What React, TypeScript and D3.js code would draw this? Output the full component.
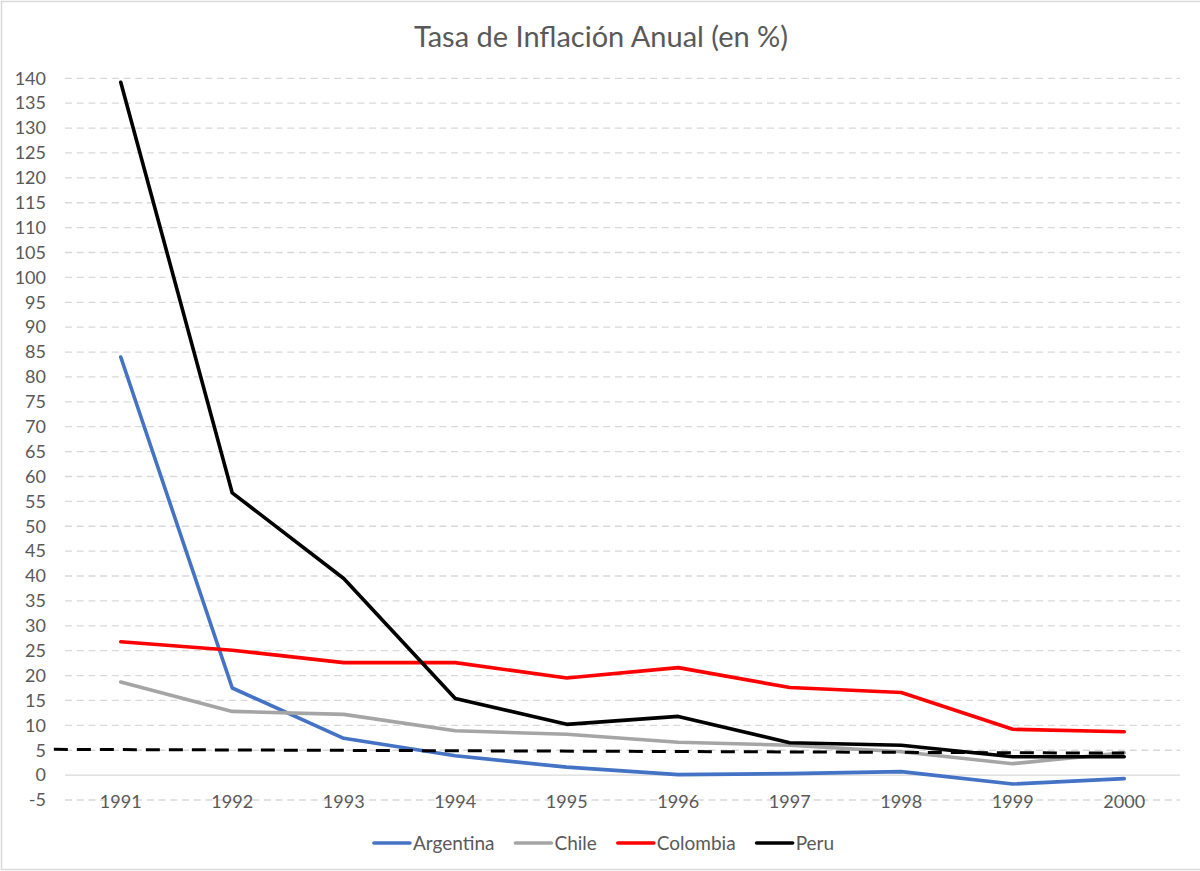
import React, { useEffect, useRef } from "react";
import * as d3 from "d3";

const years = ["1991", "1992", "1993", "1994", "1995", "1996", "1997", "1998", "1999", "2000"];
const argentina = [84.0, 17.5, 7.4, 3.9, 1.6, 0.1, 0.3, 0.7, -1.8, -0.7];
const chile = [18.7, 12.8, 12.2, 8.9, 8.2, 6.6, 6.0, 4.7, 2.3, 4.5];
const colombia = [26.8, 25.1, 22.6, 22.6, 19.5, 21.6, 17.6, 16.6, 9.2, 8.7];
const peru = [139.2, 56.7, 39.5, 15.4, 10.2, 11.8, 6.5, 6.0, 3.7, 3.7];
const trendPos = [-0.6, 9];
const trendVals = [5.18, 4.42];
const yTicks = d3.range(-5, 141, 5);
const seriesNames = ["Argentina", "Chile", "Colombia", "Peru"];
const seriesColors = ["#4472C4", "#A5A5A5", "#FF0000", "#000000"];
const seriesData = [argentina, chile, colombia, peru];

const W = 1200;
const H = 871;
const FONT = "Lato, 'Open Sans', sans-serif";
const TEXT = "#595959";

export default function App() {
  const ref = useRef<SVGSVGElement>(null);

  useEffect(() => {
    const svg = d3.select(ref.current);
    svg.selectAll("*").remove();

    svg.append("rect").attr("x", 1.5).attr("y", 1.5).attr("width", W + 5).attr("height", H - 3)
      .attr("fill", "#fff").attr("stroke", "#D9D9D9").attr("stroke-width", 1.5);

    const x = d3.scaleBand<string>().domain(years).range([65, 1180]);
    const y = d3.scaleLinear().domain([-5, 140]).range([800, 78.3]);
    const cx = (i: number) => (x(years[0]) as number) + x.bandwidth() / 2 + i * x.step();

    // gridlines
    svg.append("g").selectAll("line").data(yTicks).join("line")
      .attr("x1", 65).attr("x2", 1180)
      .attr("y1", (d) => y(d)).attr("y2", (d) => y(d))
      .attr("stroke", "#D9D9D9").attr("stroke-width", 1.3)
      .attr("stroke-dasharray", (d) => (d === 0 ? null : "7,4.7"));

    // y labels
    svg.append("g").selectAll("text").data(yTicks).join("text")
      .attr("x", 46).attr("y", (d) => y(d)).attr("dy", "0.35em")
      .attr("text-anchor", "end").attr("font-family", FONT).attr("font-size", 18)
      .attr("fill", TEXT).text((d) => String(d));

    // x labels
    svg.append("g").selectAll("text").data(years).join("text")
      .attr("x", (d) => (x(d) as number) + x.bandwidth() / 2).attr("y", 802).attr("dy", "0.35em")
      .attr("text-anchor", "middle").attr("font-family", FONT).attr("font-size", 18)
      .attr("fill", TEXT).text((d) => d);

    // series
    const line = d3.line<number>().x((_, i) => cx(i)).y((d) => y(d)).curve(d3.curveLinear);
    seriesData.forEach((s, k) => {
      svg.append("path").datum(s).attr("d", line).attr("fill", "none")
        .attr("stroke", seriesColors[k]).attr("stroke-width", 3.6)
        .attr("stroke-linejoin", "round").attr("stroke-linecap", "round");
    });

    // trend dashed line
    const tline = d3.line<number>().x((_, i) => cx(trendPos[i])).y((d) => y(d));
    svg.append("path").datum(trendVals).attr("d", tline).attr("fill", "none")
      .attr("stroke", "#000").attr("stroke-width", 3).attr("stroke-dasharray", "14,9");

    // title
    svg.append("text").attr("x", 601).attr("y", 37).attr("dy", "0.35em")
      .attr("text-anchor", "middle").attr("font-family", FONT).attr("font-size", 29)
      .attr("fill", TEXT).text("Tasa de Inflación Anual (en %)");

    // legend
    const lg = svg.append("g");
    let off = 0;
    seriesNames.forEach((n, k) => {
      const g = lg.append("g").attr("transform", `translate(${off},0)`);
      g.append("line").attr("x1", 0).attr("x2", 36).attr("y1", 0).attr("y2", 0)
        .attr("stroke", seriesColors[k]).attr("stroke-width", 3.6).attr("stroke-linecap", "round");
      const t = g.append("text").attr("x", 39).attr("y", 0).attr("dy", "0.35em")
        .attr("font-family", FONT).attr("font-size", 19).attr("fill", TEXT).text(n);
      const w = (t.node() as SVGTextElement).getComputedTextLength();
      off += 39 + w + 21;
    });
    const total = off - 21;
    lg.attr("transform", `translate(${604 - total / 2},843)`);
  }, []);

  return (
    <div style={{ position: "absolute", left: 0, top: 0 }}>
      <svg ref={ref} width={W} height={H} style={{ display: "block" }} />
    </div>
  );
}
